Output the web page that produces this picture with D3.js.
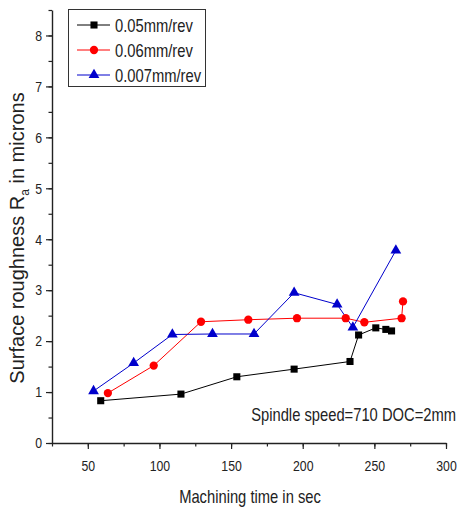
<!DOCTYPE html>
<html lang="en">
<head>
    <style>
        body { margin: 0; background: #fff; }
        text { font-family: "Liberation Sans", Arial, sans-serif; }
    </style>
    <script src="https://cdn.jsdelivr.net/npm/d3@7"></script>
</head>
<body>
    <svg id="chartContainer" width="458" height="509"></svg>
<script>
    // feed rate series (time in sec, roughness in microns)
    var seriesNames = ["0.05mm/rev", "0.06mm/rev", "0.007mm/rev"];
    var seriesColors = ["#000000", "#ff0000", "#0000cc"];
    var feed005 = [[59, 0.83], [115, 0.96], [154, 1.30], [194, 1.45], [233, 1.60],
                   [239, 2.12], [251, 2.26], [258, 2.23], [262, 2.20]];
    var feed006 = [[64, 0.98], [96, 1.52], [129, 2.38], [162, 2.42], [196, 2.45],
                   [230, 2.45], [243, 2.37], [269, 2.45], [270, 2.78]];
    var feed0007 = [[54, 1.02], [82, 1.57], [109, 2.13], [137, 2.14], [166, 2.14],
                    [194, 2.95], [224, 2.72], [235, 2.27], [265, 3.78]];
    var xTicks = [50, 100, 150, 200, 250, 300];
    var yTicks = [0, 1, 2, 3, 4, 5, 6, 7, 8];

    var svg = d3.select("svg");
    var plotLeft = 52, plotRight = 446, plotTop = 10, plotBottom = 443;
    var squeeze = 0.82; // the original figure's text is horizontally condensed

    var xScale = d3.scaleLinear().domain([25, 300]).range([plotLeft, plotRight]),
        yScale = d3.scaleLinear().domain([0, 8.5]).range([plotBottom, plotTop]);

    // narrow text at (x, y)
    function narrowText(x, y, size, anchor, str) {
        return svg.append("g")
           .attr("transform", "translate(" + x + "," + y + ") scale(" + squeeze + ",1)")
           .append("text")
           .attr("text-anchor", anchor)
           .attr("font-size", size)
           .attr("fill", "#222")
           .text(str);
    }

    // minor ticks
    svg.append("g")
       .attr("transform", "translate(0," + plotBottom + ")")
       .call(d3.axisBottom(xScale).tickValues(d3.range(25, 301, 25)).tickSize(3.5).tickFormat(""))
       .call(function(g) { g.select(".domain").remove(); });
    svg.append("g")
       .attr("transform", "translate(" + plotLeft + ",0)")
       .call(d3.axisLeft(yScale).tickValues(d3.range(0, 8.51, 0.5)).tickSize(3.5).tickFormat(""))
       .call(function(g) { g.select(".domain").remove(); });

    // X axis
    var xAxis = svg.append("g")
       .attr("transform", "translate(0," + plotBottom + ")")
       .call(d3.axisBottom(xScale).tickValues(xTicks).tickSize(6).tickSizeOuter(0).tickPadding(11));
    xAxis.selectAll(".tick text").attr("transform", "scale(" + squeeze + ",1)");
    // Y axis
    var yAxis = svg.append("g")
       .attr("transform", "translate(" + plotLeft + ",0)")
       .call(d3.axisLeft(yScale).tickValues(yTicks).tickSize(6).tickSizeOuter(0).tickPadding(4));
    yAxis.selectAll(".tick text")
         .attr("x", -10 / squeeze)
         .attr("transform", "scale(" + squeeze + ",1)");

    svg.selectAll(".tick text").attr("font-size", 15).attr("fill", "#222");
    svg.selectAll(".tick line").attr("stroke", "#222").attr("stroke-width", 1.2);
    svg.selectAll(".domain").attr("stroke", "#222").attr("stroke-width", 1.4);

    // axis titles
    narrowText(250, 503, 18, "middle", "Machining time in sec");

    var yTitle = svg.append("text")
       .attr("transform", "translate(24,238) rotate(-90)")
       .attr("text-anchor", "middle")
       .attr("font-size", 20)
       .attr("fill", "#222");
    yTitle.append("tspan").text("Surface roughness R");
    yTitle.append("tspan").attr("font-size", 12).attr("dy", 5).text("a");
    yTitle.append("tspan").attr("dy", -5).text(" in microns");

    narrowText(456, 421, 18, "end", "Spindle speed=710 DOC=2mm");

    var allSeries = [feed005, feed006, feed0007];
    var symbols = [d3.symbolSquare, d3.symbolCircle, d3.symbolTriangle];
    var symSizes = [50, 54, 50];

    var line = d3.line()
        .x(function(d) { return xScale(d[0]); })
        .y(function(d) { return yScale(d[1]); });

    allSeries.forEach(function(data, i) {
        svg.append("path")
           .datum(data)
           .attr("fill", "none")
           .attr("stroke", seriesColors[i])
           .attr("stroke-width", 1)
           .attr("d", line);
    });
    allSeries.forEach(function(data, i) {
        svg.selectAll(".pt" + i)
           .data(data)
           .enter().append("path")
           .attr("class", "pt" + i)
           .attr("transform", function(d) {
               return "translate(" + xScale(d[0]) + "," + yScale(d[1]) + ")";
           })
           .attr("d", d3.symbol().type(symbols[i]).size(symSizes[i]))
           .attr("fill", seriesColors[i]);
    });

    // legend
    svg.append("rect")
       .attr("x", 68.5).attr("y", 9.5)
       .attr("width", 137).attr("height", 77)
       .attr("fill", "#fff").attr("stroke", "#333").attr("stroke-width", 1);
    seriesNames.forEach(function(name, i) {
        var y = 25 + i * 25;
        svg.append("line")
           .attr("x1", 77).attr("x2", 110).attr("y1", y).attr("y2", y)
           .attr("stroke", seriesColors[i]).attr("stroke-width", 1);
        svg.append("path")
           .attr("transform", "translate(94," + y + ")")
           .attr("d", d3.symbol().type(symbols[i]).size(symSizes[i]))
           .attr("fill", seriesColors[i]);
        narrowText(115, y + 7, 18, "start", name);
    });
</script>
</body>
</html>
